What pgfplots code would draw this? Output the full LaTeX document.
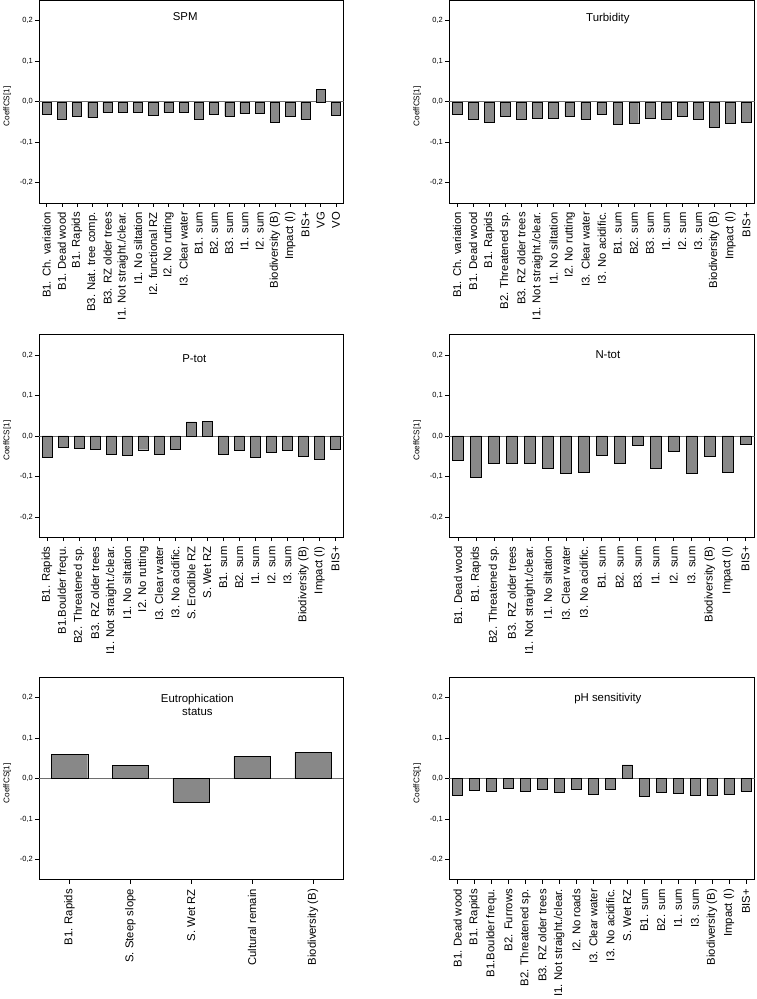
\documentclass[border=0pt]{standalone}
\usepackage{fontspec}
\setmainfont{Liberation Sans}
\usepackage{pgfplots}
\pgfplotsset{compat=1.18}
\definecolor{barfill}{RGB}{136,136,136}
\definecolor{zeroline}{RGB}{110,110,110}
\pgfplotsset{
  panel/.style={
    scale only axis,
    height=202.5pt,
    ymin=-0.25, ymax=0.25,
    ytick={-0.2,-0.1,0,0.1,0.2},
    scaled y ticks=false,
    yticklabel style={font=\fontsize{7.5}{9}\selectfont,
      /pgf/number format/fixed, /pgf/number format/fixed zerofill,
      /pgf/number format/precision=1, /pgf/number format/use comma,
      /pgf/number format/assume math mode=true, inner sep=2pt},
    xticklabel style={font=\fontsize{11.3}{13}\selectfont, rotate=90, anchor=east, inner sep=2pt},
    xticklabel shift=3pt,
    xtick=data,
    tick align=outside,
    tick pos=left,
    major tick length=4pt,
    tick style={black, line width=0.6pt},
    axis line style={black, line width=0.8pt},
    ylabel={CoeffCS[1]},
    ylabel style={font=\fontsize{8.2}{10}\selectfont, at={(axis description cs:-0.104,0.477)}, anchor=center},
    ybar, bar width=0.6,
    cycle list={{fill=barfill, draw=black!85, line width=0.6pt}},
  }
}
\begin{document}
\begin{tikzpicture}
\useasboundingbox (0,0) rectangle (756pt,999pt);
% ---------------- SPM
\begin{axis}[panel, at={(39pt,998.5pt)}, anchor=north west, width=304.5pt,
  xmin=-0.5, xmax=19.5,
  xticklabels={{B1. Ch. variation},{B1. Dead wood},{B1. Rapids},{B3. Nat. tree comp.},{B3. RZ older trees},{I1. Not straight./clear.},{I1. No siltation},{I2. functional RZ},{I2. No rutting},{I3. Clear water},{B1. sum},{B2. sum},{B3. sum},{I1. sum},{I2. sum},{Biodiversity (B)},{Impact (I)},{BIS+},{VG},{VO}}]
\draw[zeroline, line width=0.8pt] (axis cs:-0.5,0) -- (axis cs:19.5,0);
\addplot coordinates {(0,-0.031) (1,-0.043) (2,-0.035) (3,-0.039) (4,-0.026) (5,-0.026) (6,-0.025) (7,-0.034) (8,-0.026) (9,-0.025) (10,-0.043) (11,-0.031) (12,-0.035) (13,-0.029) (14,-0.029) (15,-0.051) (16,-0.035) (17,-0.043) (18,0.031) (19,-0.034)};
\node[font=\fontsize{11.4}{13}\selectfont] at (rel axis cs:0.48,0.922) {SPM};
\end{axis}
% ---------------- Turbidity
\begin{axis}[panel, at={(449pt,998.5pt)}, anchor=north west, width=305.5pt,
  xmin=-0.5, xmax=18.5,
  xticklabels={{B1. Ch. variation},{B1. Dead wood},{B1. Rapids},{B2. Threatened sp.},{B3. RZ older trees},{I1. Not straight./clear.},{I1. No siltation},{I2. No rutting},{I3. Clear water},{I3. No acidific.},{B1. sum},{B2. sum},{B3. sum},{I1. sum},{I2. sum},{I3. sum},{Biodiversity (B)},{Impact (I)},{BIS+}}]
\draw[zeroline, line width=0.8pt] (axis cs:-0.5,0) -- (axis cs:18.5,0);
\addplot coordinates {(0,-0.031) (1,-0.044) (2,-0.051) (3,-0.036) (4,-0.043) (5,-0.040) (6,-0.041) (7,-0.035) (8,-0.042) (9,-0.031) (10,-0.055) (11,-0.052) (12,-0.041) (13,-0.042) (14,-0.036) (15,-0.043) (16,-0.062) (17,-0.053) (18,-0.051)};
\node[font=\fontsize{11.4}{13}\selectfont] at (rel axis cs:0.52,0.912) {Turbidity};
\end{axis}
% ---------------- P-tot
\begin{axis}[panel, at={(39pt,664.3pt)}, anchor=north west, width=304.5pt,
  xmin=-0.5, xmax=18.5,
  xticklabels={{B1. Rapids},{B1.Boulder frequ.},{B2. Threatened sp.},{B3. RZ older trees},{I1. Not straight./clear.},{I1. No siltation},{I2. No rutting},{I3. Clear water},{I3. No acidific.},{S. Erodible RZ},{S. Wet RZ},{B1. sum},{B2. sum},{I1. sum},{I2. sum},{I3. sum},{Biodiversity (B)},{Impact (I)},{BIS+}}]
\draw[zeroline, line width=0.8pt] (axis cs:-0.5,0) -- (axis cs:18.5,0);
\addplot coordinates {(0,-0.052) (1,-0.029) (2,-0.031) (3,-0.032) (4,-0.044) (5,-0.047) (6,-0.034) (7,-0.046) (8,-0.032) (9,0.035) (10,0.036) (11,-0.044) (12,-0.036) (13,-0.052) (14,-0.040) (15,-0.036) (16,-0.051) (17,-0.057) (18,-0.032)};
\node[font=\fontsize{11.4}{13}\selectfont] at (rel axis cs:0.51,0.883) {P-tot};
\end{axis}
% ---------------- N-tot
\begin{axis}[panel, at={(449pt,664.3pt)}, anchor=north west, width=305.5pt,
  xmin=-0.5, xmax=16.5,
  xticklabels={{B1. Dead wood},{B1. Rapids},{B2. Threatened sp.},{B3. RZ older trees},{I1. Not straight./clear.},{I1. No siltation},{I3. Clear water},{I3. No acidific.},{B1. sum},{B2. sum},{B3. sum},{I1. sum},{I2. sum},{I3. sum},{Biodiversity (B)},{Impact (I)},{BIS+}}]
\draw[zeroline, line width=0.8pt] (axis cs:-0.5,0) -- (axis cs:16.5,0);
\addplot coordinates {(0,-0.060) (1,-0.101) (2,-0.067) (3,-0.067) (4,-0.067) (5,-0.079) (6,-0.091) (7,-0.089) (8,-0.047) (9,-0.067) (10,-0.024) (11,-0.079) (12,-0.037) (13,-0.093) (14,-0.049) (15,-0.089) (16,-0.021)};
\node[font=\fontsize{11.4}{13}\selectfont] at (rel axis cs:0.52,0.903) {N-tot};
\end{axis}
% ---------------- Eutrophication status
\begin{axis}[panel, at={(39pt,321.6pt)}, anchor=north west, width=304.5pt,
  xmin=-0.5, xmax=4.5,
  xticklabels={{B1. Rapids},{S. Steep slope},{S. Wet RZ},{Cultural remain},{Biodiversity (B)}}]
\draw[zeroline, line width=0.8pt] (axis cs:-0.5,0) -- (axis cs:4.5,0);
\addplot coordinates {(0,0.060) (1,0.033) (2,-0.058) (3,0.055) (4,0.065)};
\node[font=\fontsize{11.4}{13}\selectfont, align=center] at (rel axis cs:0.52,0.865) {Eutrophication\\status};
\end{axis}
% ---------------- pH sensitivity
\begin{axis}[panel, at={(449pt,321.6pt)}, anchor=north west, width=305.5pt,
  xmin=-0.5, xmax=17.5,
  xticklabels={{B1. Dead wood},{B1. Rapids},{B1.Boulder frequ.},{B2. Furrows},{B2. Threatened sp.},{B3. RZ older trees},{I1. Not straight./clear.},{I2. No roads},{I3. Clear water},{I3. No acidific.},{S. Wet RZ},{B1. sum},{B2. sum},{I1. sum},{I3. sum},{Biodiversity (B)},{Impact (I)},{BIS+}}]
\draw[zeroline, line width=0.8pt] (axis cs:-0.5,0) -- (axis cs:17.5,0);
\addplot coordinates {(0,-0.042) (1,-0.029) (2,-0.030) (3,-0.023) (4,-0.031) (5,-0.027) (6,-0.034) (7,-0.026) (8,-0.038) (9,-0.025) (10,0.034) (11,-0.044) (12,-0.034) (13,-0.035) (14,-0.040) (15,-0.040) (16,-0.039) (17,-0.031)};
\node[font=\fontsize{11.4}{13}\selectfont] at (rel axis cs:0.52,0.896) {pH sensitivity};
\end{axis}
\end{tikzpicture}
\end{document}
